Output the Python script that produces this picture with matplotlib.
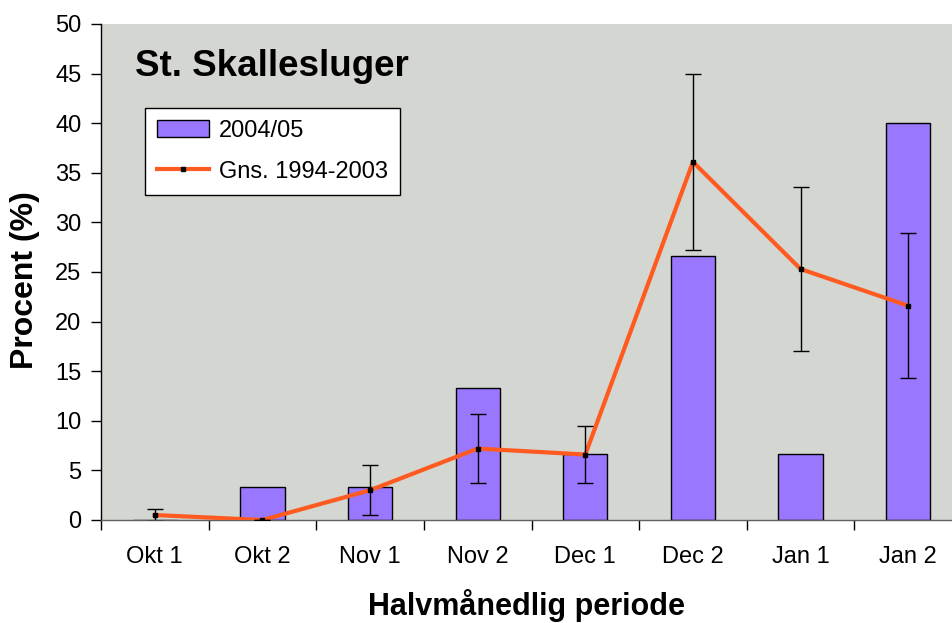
# St. Skallesluger - halvmaanedlig fordeling, 2004/05 vs gns. 1994-2003

import numpy as np
import matplotlib
matplotlib.use('Agg')
import matplotlib.pyplot as plt

plt.rcParams['font.family'] = ['Liberation Sans', 'DejaVu Sans']

periods = ['Okt 1', 'Okt 2', 'Nov 1', 'Nov 2', 'Dec 1', 'Dec 2', 'Jan 1', 'Jan 2']
season_2004 = [0.0, 3.3, 3.3, 13.3, 6.7, 26.6, 6.7, 40.0]
avg_1994_2003 = [0.5, 0.0, 3.0, 7.2, 6.6, 36.1, 25.3, 21.6]
avg_err = [0.65, 0.0, 2.5, 3.5, 2.9, 8.9, 8.3, 7.3]

bar_color = '#9977FF'
line_color = '#FF5A1F'
bg_color = '#D4D6D1'

W, H = 952, 623
fig = plt.figure(figsize=(W / 100, H / 100), dpi=100)
# plot area runs a bit past the right edge of the picture, like the original
ax = fig.add_axes([101 / W, 1 - 520 / H, 861 / W, 496 / H])
ax.set_facecolor(bg_color)

x = np.arange(len(periods))
bars = ax.bar(x, season_2004, width=0.41, color=bar_color, edgecolor='black',
              linewidth=1, zorder=2, label='2004/05')
line, = ax.plot(x, avg_1994_2003, '-', color=line_color, lw=3, marker='s',
                ms=3.5, mfc='black', mec='black', zorder=3, label='Gns. 1994-2003')
ax.errorbar(x, avg_1994_2003, yerr=avg_err, fmt='none', ecolor='black',
            elinewidth=1, capsize=6, capthick=1, zorder=4)

ax.set_xlim(-0.5, 7.5)
ax.set_ylim(0, 50)
ax.set_yticks(np.arange(0, 51, 5))
ax.tick_params(axis='y', direction='out', length=7, width=1, pad=7,
               labelsize=17, color='black')
ax.set_xticks(x)
ax.set_xticklabels(periods)
ax.set_xticks(np.arange(-0.5, 8, 1), minor=True)
ax.tick_params(axis='x', which='major', length=0, pad=19, labelsize=17)
ax.tick_params(axis='x', which='minor', direction='out', length=7, width=1,
               color='black')

for s in ['top', 'right']:
    ax.spines[s].set_visible(False)
ax.spines['left'].set_color('black')
ax.spines['bottom'].set_color('#606060')
ax.spines['left'].set_linewidth(1)
ax.spines['bottom'].set_linewidth(1)

fig.text(135 / W, 1 - 67 / H, 'St. Skallesluger', fontsize=26.5,
         fontweight='bold', va='center', ha='left')
fig.text(527 / W, 1 - 606 / H, 'Halvmånedlig periode', fontsize=22,
         fontweight='bold', ha='center', va='center')
fig.text(25 / W, 1 - 280 / H, 'Procent (%)', fontsize=23, fontweight='bold',
         rotation=90, ha='center', va='center')

leg = ax.legend(handles=[bars, line], loc='upper left',
                bbox_to_anchor=(145 / W, 1 - 108 / H),
                bbox_transform=fig.transFigure, fontsize=17, frameon=True,
                fancybox=False, edgecolor='black', framealpha=1,
                borderaxespad=0, handlelength=2.2, handletextpad=0.45,
                borderpad=0.5, labelspacing=0.8)
leg.get_frame().set_linewidth(1)

fig.savefig('out.png', dpi=100)
